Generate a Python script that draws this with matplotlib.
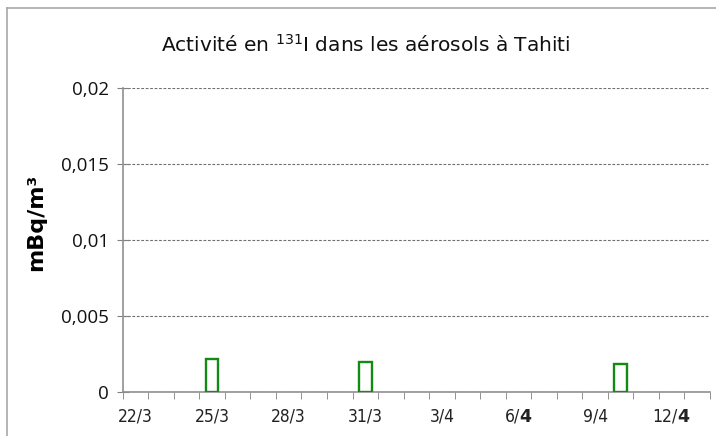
import matplotlib
matplotlib.use('Agg')
import matplotlib.pyplot as plt
import pandas as pd
from matplotlib.lines import Line2D

plt.rcParams['font.family'] = 'DejaVu Sans'
plt.rcParams['mathtext.fontset'] = 'custom'
plt.rcParams['mathtext.rm'] = 'DejaVu Sans'
plt.rcParams['mathtext.bf'] = 'DejaVu Sans:bold'

# days shown on the axis, and the sampling days with their activity (mBq/m3)
axis_days = pd.date_range('2011-03-22', '2011-04-13', freq='D')
sample_days = ['2011-03-25', '2011-03-31', '2011-04-10']
activity = [0.0022, 0.00202, 0.00185]

tick_labels = ['22/3', '25/3', '28/3', '31/3', '3/4', r'6/$\mathbf{4}$', '9/4', r'12/$\mathbf{4}$']
y_ticks = [0, 0.005, 0.01, 0.015, 0.02]
y_labels = ['0', '0,005', '0,01', '0,015', '0,02']

fig = plt.figure(figsize=(7.16, 4.36), dpi=100)
ax = fig.add_axes([0.1714, 0.1002, 0.8202, 0.6973])

pos = [axis_days.get_loc(pd.Timestamp(d)) for d in sample_days]
ax.bar(pos, activity, width=0.5, facecolor='white', edgecolor='#138a13', linewidth=1.7, zorder=3)

ax.set_xlim(-0.5, len(axis_days) - 0.5)
ax.set_ylim(0, 0.02)

ax.set_yticks(y_ticks)
ax.set_yticklabels(y_labels, fontsize=13.5, family='Open Sans', color='#111111')
ax.tick_params(axis='y', direction='inout', length=8, color='#808080', pad=6)
ax.grid(axis='y', linestyle=(0, (2.5, 1.5)), color='#707070', linewidth=0.8, zorder=0)

# labels every 3 days, tick marks on the day boundaries
ax.set_xticks(range(0, len(axis_days), 3))
ax.set_xticklabels(tick_labels, fontsize=12.5, family='DejaVu Sans', fontstretch='condensed',
                   color='#222222')
ax.set_xticks([i - 0.5 for i in range(len(axis_days) + 1)], minor=True)
ax.tick_params(axis='x', which='major', length=0, pad=11)
ax.tick_params(axis='x', which='minor', direction='out', length=5, color='#808080')

for s in ['top', 'right']:
    ax.spines[s].set_visible(False)
for s in ['left', 'bottom']:
    ax.spines[s].set_color('#909090')
    ax.spines[s].set_linewidth(1.2)

ax.set_ylabel('mBq/m³', fontsize=16, fontweight='bold')
ax.yaxis.set_label_coords(-0.13, 0.56)

fig.text(0.511, 0.897, r'Activité en $^{131}$I dans les aérosols à Tahiti',
         ha='center', va='center', fontsize=14.5, color='#111111')

# outer frame lines
fig.add_artist(Line2D([0.0098, 0.0098], [0.0, 0.9817], color='#a8a8a8', linewidth=1.2))
fig.add_artist(Line2D([0.0098, 1.0], [0.9817, 0.9817], color='#a8a8a8', linewidth=1.2))

fig.savefig('out.png', dpi=100)
